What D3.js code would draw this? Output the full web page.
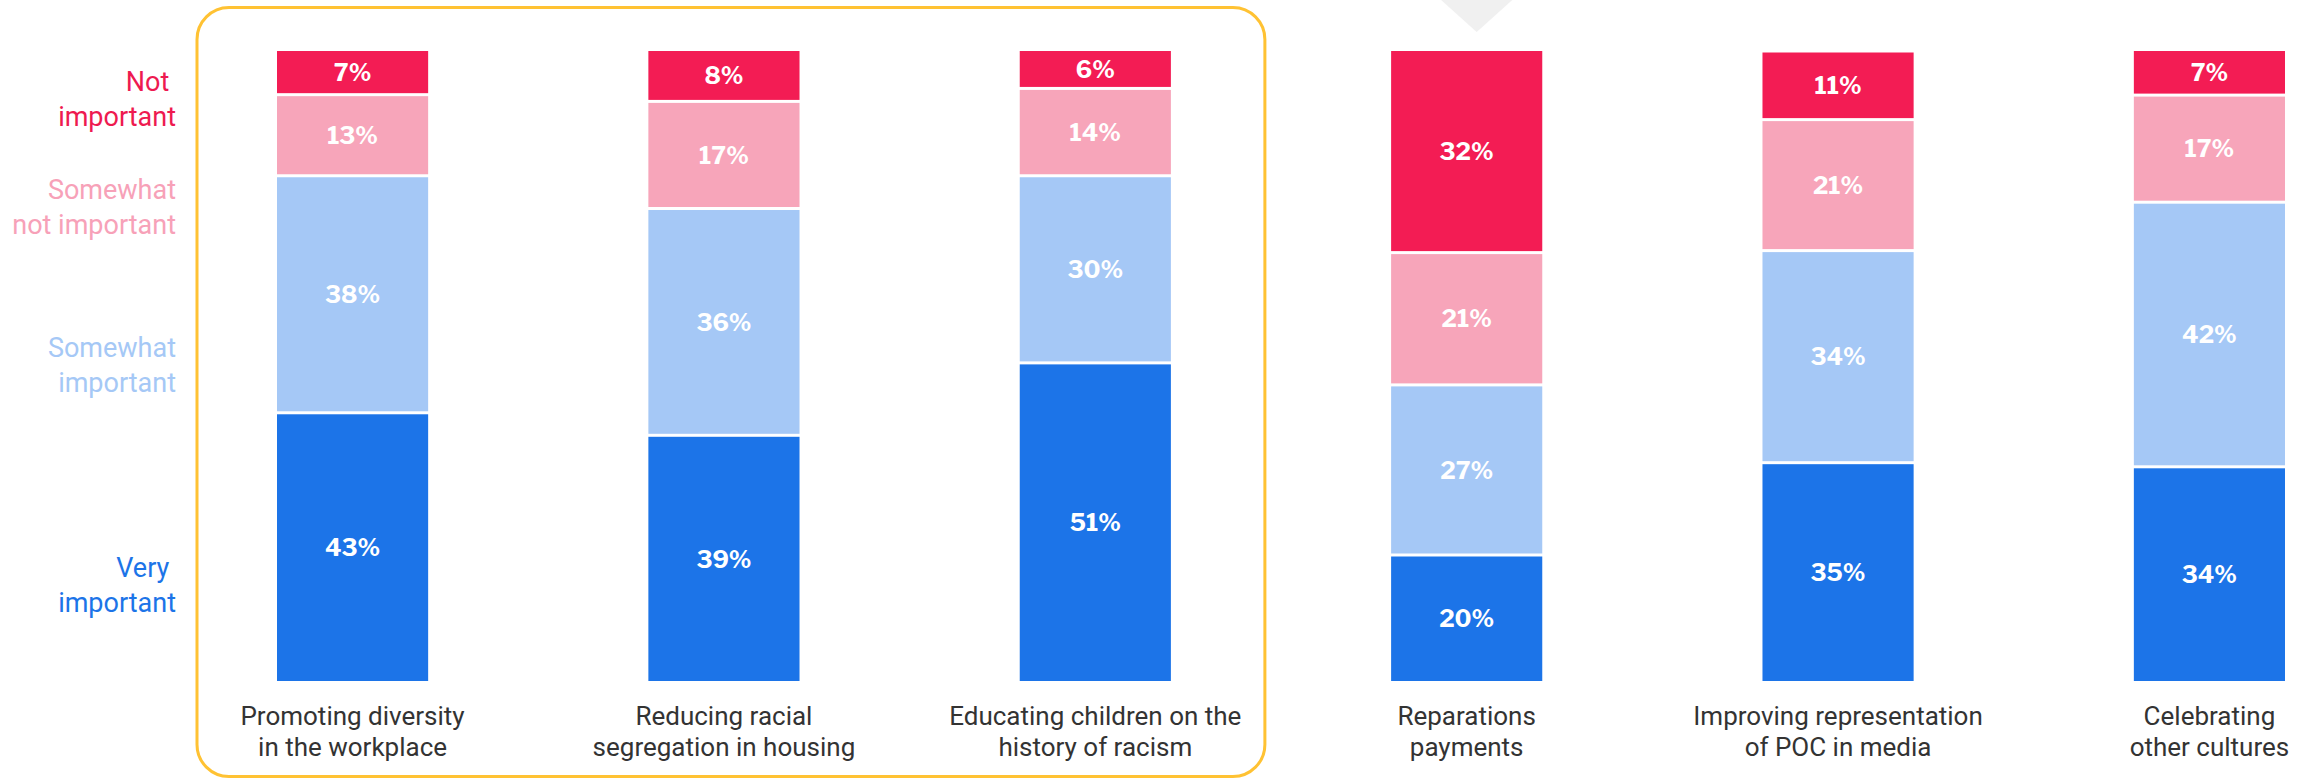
<!DOCTYPE html>
<html>
<head>
<meta charset="utf-8">
<script src="https://cdn.jsdelivr.net/npm/d3@7"></script>
<style>
  body { margin: 0; background: #fff; }
  svg { display: block; }
</style>
</head>
<body>
<script>
// Categories (two lines each) and the four answer series, bottom to top
var categories = [
  "Promoting diversity|in the workplace",
  "Reducing racial|segregation in housing",
  "Educating children on the|history of racism",
  "Reparations|payments",
  "Improving representation|of POC in media",
  "Celebrating|other cultures"
];
var veryImportant         = [43, 39, 51, 20, 35, 34];
var somewhatImportant     = [38, 36, 30, 27, 34, 42];
var somewhatNotImportant  = [13, 17, 14, 21, 21, 17];
var notImportant          = [7, 8, 6, 32, 11, 7];

var seriesKeys   = ["very", "somewhat", "somewhatNot", "not"];
var seriesLabels = ["Very\u00a0|important", "Somewhat|important", "Somewhat|not important", "Not\u00a0|important"];

var width = 2316, height = 778;

// table for d3.stack
var rows = categories.map(function (c, i) {
  return {
    cat: c,
    very: veryImportant[i],
    somewhat: somewhatImportant[i],
    somewhatNot: somewhatNotImportant[i],
    not: notImportant[i]
  };
});

var color = d3.scaleOrdinal()
  .domain(seriesKeys)
  .range(["#1c74e8", "#a5c8f6", "#f7a5ba", "#f31c54"]);

var labelColor = d3.scaleOrdinal()
  .domain(seriesKeys)
  .range(["#1c74e8", "#a5c8f6", "#f7a1b8", "#ee1a50"]);

var x = d3.scaleBand()
  .domain(categories)
  .range([277, 2285])
  .paddingInner(0.593)
  .paddingOuter(0);

var y = d3.scaleLinear()
  .domain([0, 1])
  .range([681, 51]);

var stack = d3.stack()
  .keys(seriesKeys)
  .offset(d3.stackOffsetExpand);

var stacked = stack(rows);

var svg = d3.select("body").append("svg")
  .attr("width", width)
  .attr("height", height);

// highlight box around the first three items
var boxLeft = x(categories[0]) - 80,
    boxRight = x(categories[2]) + x.bandwidth() + 94;
svg.append("rect")
  .attr("x", boxLeft)
  .attr("y", 7.5)
  .attr("width", boxRight - boxLeft)
  .attr("height", 769)
  .attr("rx", 32)
  .attr("fill", "none")
  .attr("stroke", "#ffc233")
  .attr("stroke-width", 3);

// grey pointer at the top
var px = x(categories[3]) + x.bandwidth() / 2 + 10;
svg.append("path")
  .attr("d", "M" + (px - 40) + ",-4 L" + (px + 40) + ",-4 L" + px + ",32 Z")
  .attr("fill", "#f0f0f0");

// white separation between segments, split around each boundary
var half = 1.5;
function segTop(d) { return y(d[1]) + (d[1] < 1 ? half : 0); }
function segBot(d) { return y(d[0]) - (d[0] > 0 ? half : 0); }

var layers = svg.selectAll(".layer")
  .data(stacked)
  .enter().append("g")
  .attr("class", "layer")
  .attr("fill", function (d) { return color(d.key); });

layers.selectAll("rect")
  .data(function (d) { return d; })
  .enter().append("rect")
  .attr("x", function (d) { return x(d.data.cat); })
  .attr("y", segTop)
  .attr("width", x.bandwidth())
  .attr("height", function (d) { return segBot(d) - segTop(d); });

// value labels
layers.selectAll("text")
  .data(function (d) {
    return d.map(function (p) { p.key = d.key; return p; });
  })
  .enter().append("text")
  .attr("x", function (d) { return x(d.data.cat) + x.bandwidth() / 2; })
  .attr("y", function (d) { return (segTop(d) + segBot(d)) / 2; })
  .attr("dy", "0.36em")
  .attr("text-anchor", "middle")
  .attr("fill", "#fff")
  .style("font-family", "'Libre Franklin', Roboto, 'Liberation Sans', sans-serif")
  .style("font-weight", "bold")
  .style("font-size", "24px")
  .text(function (d) { return d.data[d.key] + "%"; });

// category labels
var catLabels = svg.selectAll(".cat")
  .data(categories)
  .enter().append("text")
  .attr("class", "cat")
  .attr("x", function (d) { return x(d) + x.bandwidth() / 2; })
  .attr("y", 725)
  .attr("text-anchor", "middle")
  .attr("fill", "#333")
  .style("font-family", "Roboto, 'Liberation Sans', sans-serif")
  .style("font-size", "26px");

catLabels.selectAll("tspan")
  .data(function (d) { return d.split("|"); })
  .enter().append("tspan")
  .attr("x", function () { return d3.select(this.parentNode).attr("x"); })
  .attr("dy", function (d, i) { return i ? 31 : 0; })
  .text(function (d) { return d; });

// legend on the left, bottom series first
var legendY = [577, 357, 199, 91];
var legend = svg.selectAll(".legend")
  .data(seriesKeys)
  .enter().append("text")
  .attr("class", "legend")
  .attr("x", 176)
  .attr("y", function (d, i) { return legendY[i]; })
  .attr("text-anchor", "end")
  .attr("fill", function (d) { return labelColor(d); })
  .style("font-family", "Roboto, 'Liberation Sans', sans-serif")
  .style("font-size", "27px")
  .style("white-space", "pre");

legend.selectAll("tspan")
  .data(function (d, i) { return seriesLabels[i].split("|"); })
  .enter().append("tspan")
  .attr("x", 176)
  .attr("dy", function (d, i) { return i ? 35 : 0; })
  .text(function (d) { return d; });
</script>
</body>
</html>
